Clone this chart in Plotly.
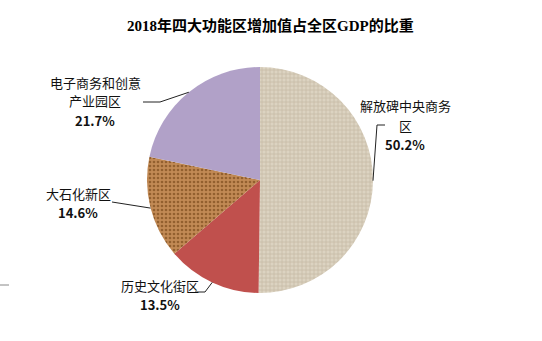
import math
import plotly.graph_objects as go

W, H = 542, 341

title = "2018年四大功能区增加值占全区GDP的比重"
labels = ["解放碑中央商务区", "历史文化街区", "大石化新区", "电子商务和创意产业园区"]
label_lines = [["解放碑中央商务", "区"], ["历史文化街区"], ["大石化新区"], ["电子商务和创意", "产业园区"]]
values = [50.2, 13.5, 14.6, 21.7]

bg_colors = ["#DCD3C1", "#C0504D", "#C28A55", "#B1A1C8"]
fg_colors = ["#C6BBA6", "#C0504D", "#93602F", "#B1A1C8"]
shapes_pat = ["+", "", ".", ""]

# pie geometry in pixels
cx, cy, R = 260, 180, 113

def px(x):
    return x / W

def py(y):
    return 1 - y / H

fig = go.Figure()
fig.add_trace(go.Pie(
    labels=labels, values=values, sort=False, direction="clockwise", rotation=0,
    textinfo="none", hoverinfo="label+percent",
    marker=dict(colors=bg_colors, line=dict(width=0),
                pattern=dict(shape=shapes_pat, fgcolor=fg_colors, bgcolor=bg_colors,
                             size=4, solidity=0.35, fillmode="replace")),
    domain=dict(x=[px(cx - R), px(cx + R)], y=[py(cy + R), py(cy - R)]),
    showlegend=False,
))

# label placement (pixel: center x, first line center y) and leader elbows
label_pos = [(405, 106), (160, 285), (78, 193), (95, 82)]
line_gap = 19
elbows = [[(377, 125), (385, 125)], [(205, 292), (195, 292)], [(112, 202)], [(160, 102), (143, 102)]]

total = sum(values)
cum = 0
shapes = []
annotations = []
for i, v in enumerate(values):
    mid = (cum + v / 2) / total * 2 * math.pi
    cum += v
    ax = cx + R * math.sin(mid)
    ay = cy - R * math.cos(mid)
    pts = [(ax, ay)] + elbows[i]
    path = "M " + " L ".join(f"{px(x)},{py(y)}" for x, y in pts)
    shapes.append(dict(type="path", xref="paper", yref="paper", path=path,
                       line=dict(color="#222222", width=1)))
    lx, ly = label_pos[i]
    rows = label_lines[i] + [f"<b>{v:.1f}%</b>"]
    for k, row in enumerate(rows):
        annotations.append(dict(x=px(lx), y=py(ly + k * line_gap), xref="paper", yref="paper",
                                text=row, showarrow=False, xanchor="center", yanchor="middle",
                                font=dict(family="Noto Sans CJK SC, DejaVu Sans", size=13, color="#111111")))

# stray short line at left edge
shapes.append(dict(type="line", xref="paper", yref="paper", x0=px(0), x1=px(9), y0=py(285), y1=py(285),
                   line=dict(color="#888888", width=1)))

annotations.append(dict(x=px(270), y=py(25), xref="paper", yref="paper", text=f"<b>{title}</b>",
                        showarrow=False, xanchor="center", yanchor="middle",
                        font=dict(family="Liberation Serif, Noto Sans CJK SC", size=15, color="#000000")))

fig.update_layout(width=W, height=H, margin=dict(l=0, r=0, t=0, b=0),
                  paper_bgcolor="white", plot_bgcolor="white",
                  shapes=shapes, annotations=annotations)

fig.write_html("out.html")
